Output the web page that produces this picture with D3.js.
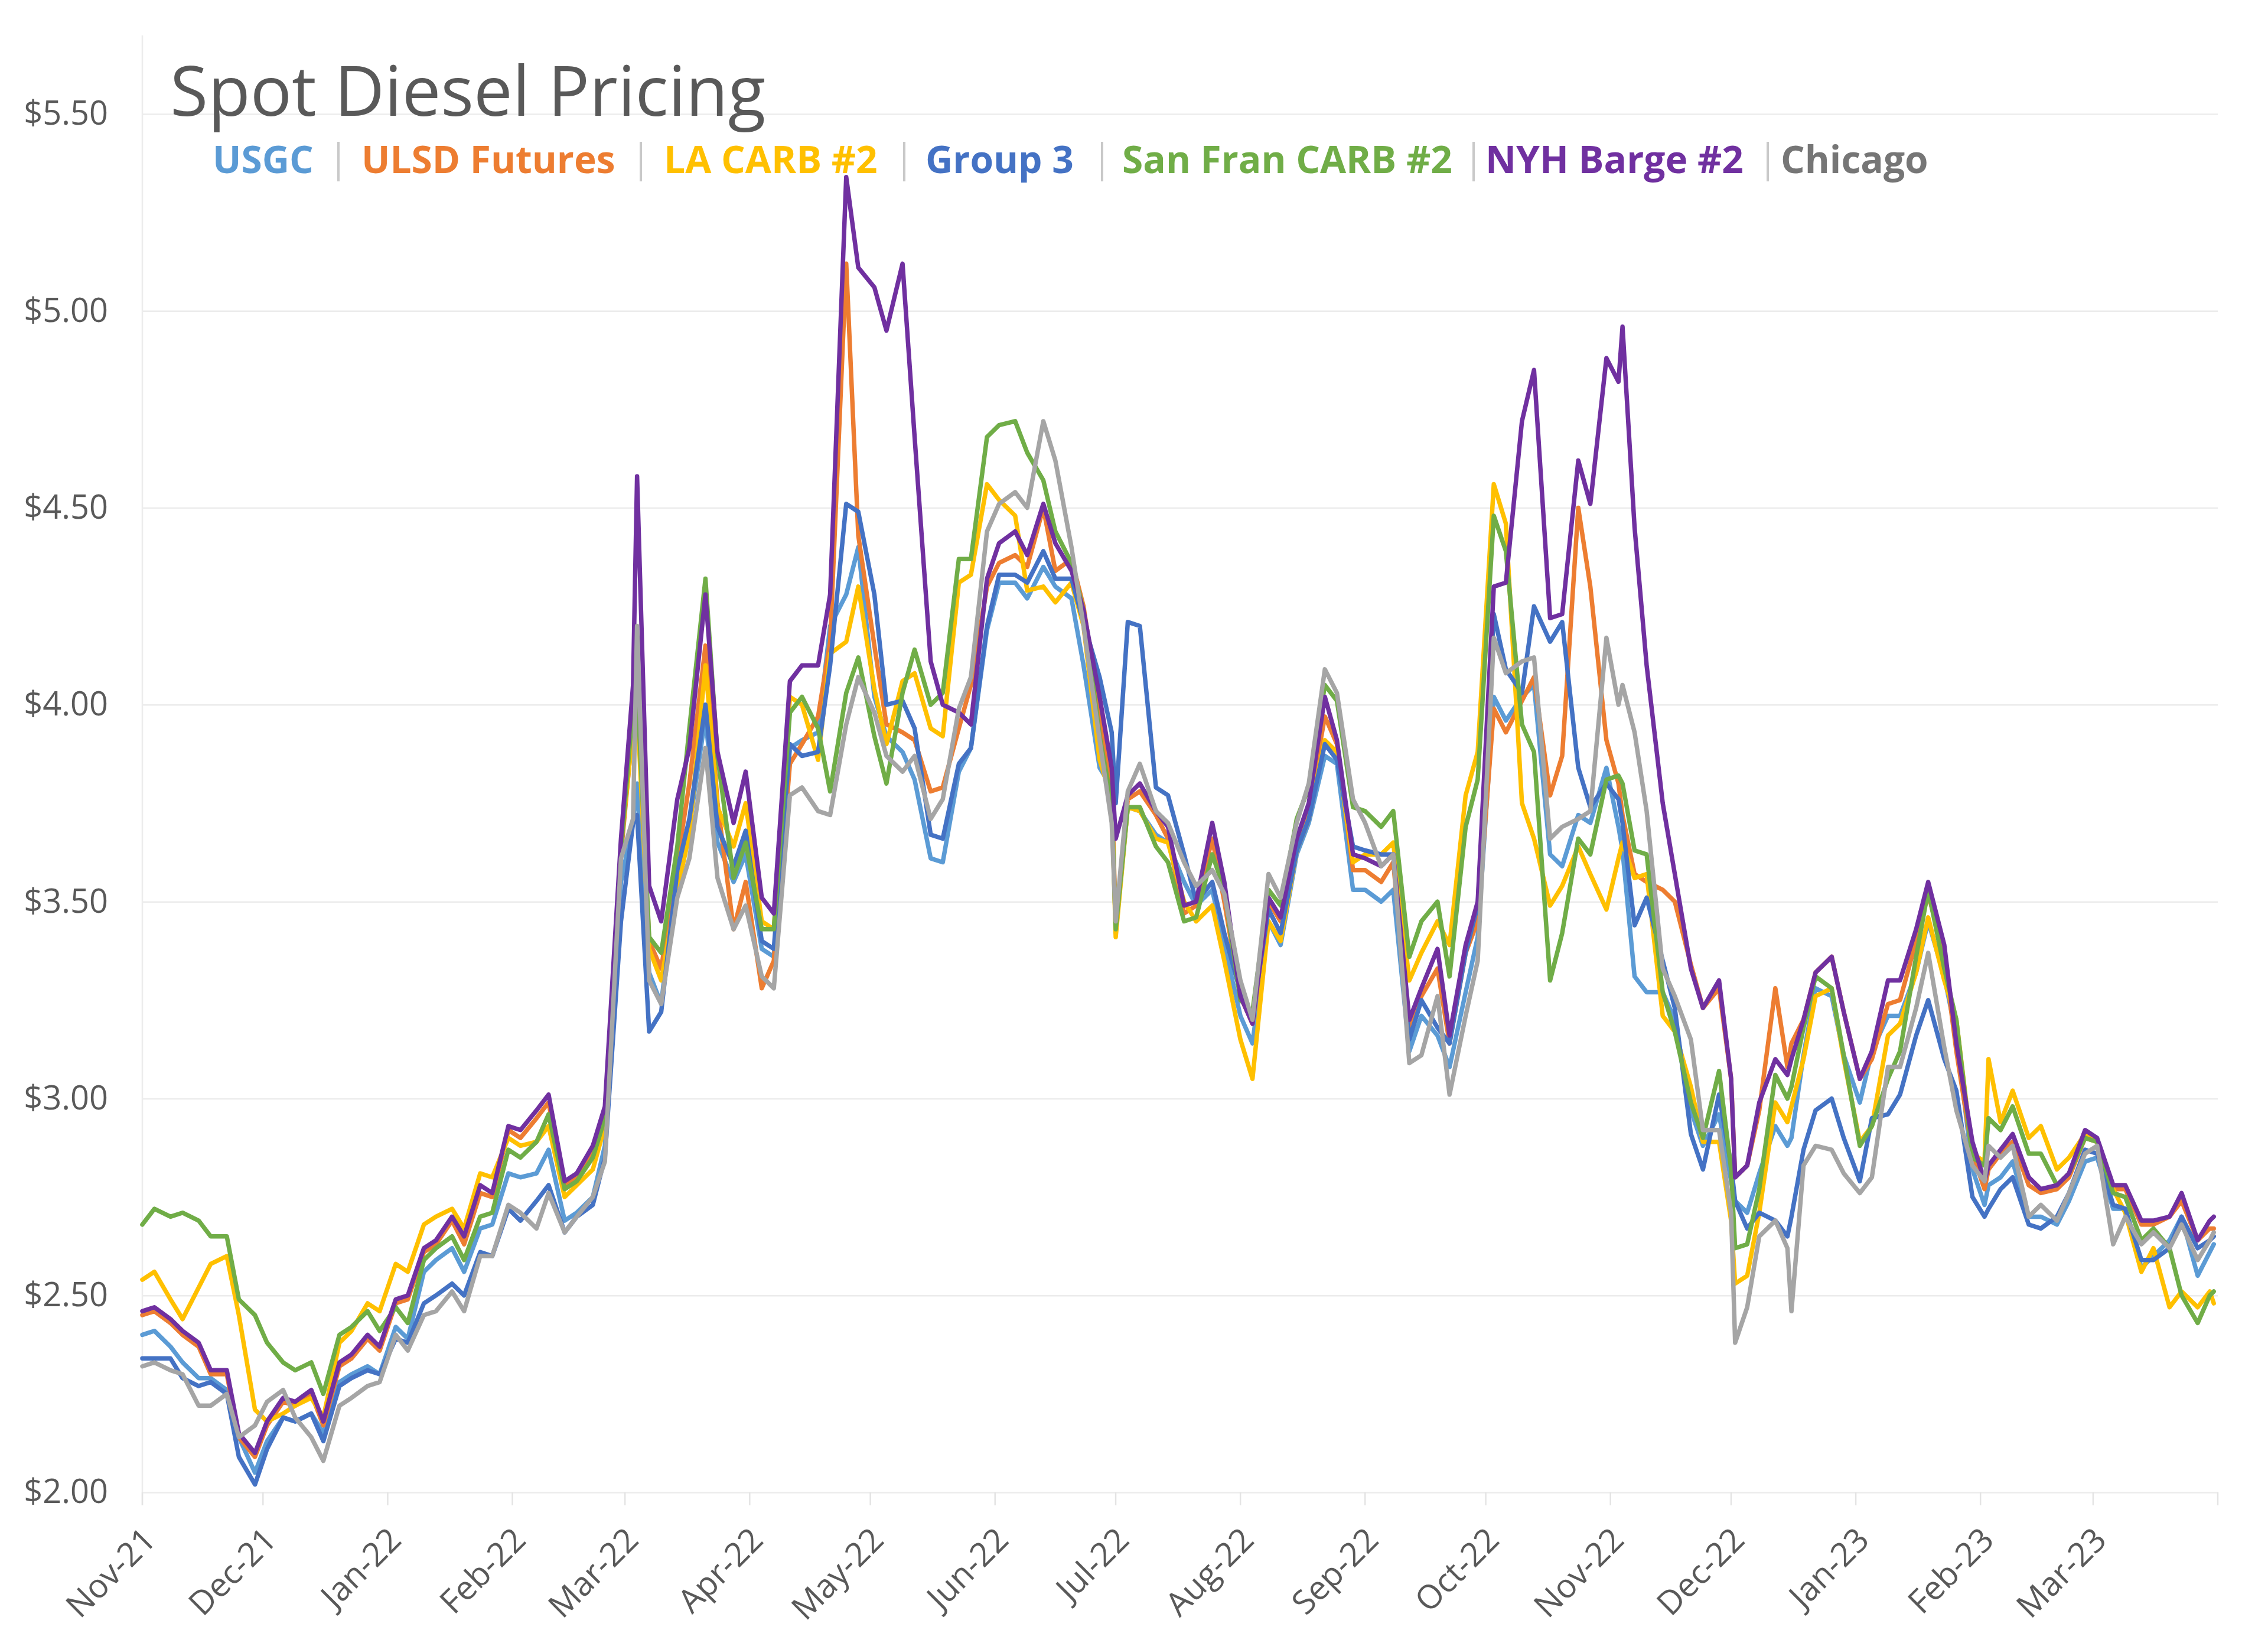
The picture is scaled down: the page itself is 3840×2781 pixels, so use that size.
<!DOCTYPE html>
<html><head><meta charset="utf-8">
<script src="https://cdn.jsdelivr.net/npm/d3@7"></script>
<style>html,body{margin:0;padding:0;background:#fff;} svg{display:block;}</style>
</head><body>
<svg id="chart" width="3840" height="2781"></svg>
<script>
const dates = [
"2021-11-01","2021-11-04","2021-11-08","2021-11-11","2021-11-15","2021-11-18","2021-11-22","2021-11-25","2021-11-29","2021-12-02","2021-12-06","2021-12-09","2021-12-13","2021-12-16","2021-12-20","2021-12-23","2021-12-27","2021-12-30","2022-01-03","2022-01-06","2022-01-10","2022-01-13","2022-01-17","2022-01-20","2022-01-24","2022-01-27",
"2022-01-31","2022-02-03","2022-02-07","2022-02-10","2022-02-14","2022-02-17","2022-02-21","2022-02-24","2022-02-28","2022-03-03","2022-03-04","2022-03-07","2022-03-10","2022-03-14","2022-03-17","2022-03-21","2022-03-24","2022-03-28","2022-03-31","2022-04-04","2022-04-07","2022-04-11","2022-04-14","2022-04-18","2022-04-21",
"2022-04-25","2022-04-28","2022-05-02","2022-05-05","2022-05-09","2022-05-12","2022-05-16","2022-05-19","2022-05-23","2022-05-26","2022-05-30","2022-06-02","2022-06-06","2022-06-09","2022-06-13","2022-06-16","2022-06-20","2022-06-23","2022-06-27","2022-06-30","2022-07-01","2022-07-04","2022-07-07","2022-07-11","2022-07-14","2022-07-18",
"2022-07-21","2022-07-25","2022-07-28","2022-08-01","2022-08-04","2022-08-08","2022-08-11","2022-08-15","2022-08-18","2022-08-22","2022-08-25","2022-08-29","2022-09-01","2022-09-05","2022-09-08","2022-09-12","2022-09-15","2022-09-19","2022-09-22","2022-09-26","2022-09-29","2022-10-03","2022-10-06","2022-10-10","2022-10-13",
"2022-10-17","2022-10-20","2022-10-24","2022-10-27","2022-10-31","2022-11-03","2022-11-04","2022-11-07","2022-11-10","2022-11-14","2022-11-17","2022-11-21","2022-11-24","2022-11-28","2022-12-01","2022-12-02","2022-12-05","2022-12-08","2022-12-12","2022-12-15","2022-12-16","2022-12-19","2022-12-22","2022-12-26","2022-12-29","2023-01-02","2023-01-05",
"2023-01-09","2023-01-12","2023-01-16","2023-01-19","2023-01-23","2023-01-26","2023-01-30","2023-02-02","2023-02-03","2023-02-06","2023-02-09","2023-02-13","2023-02-16","2023-02-20","2023-02-23","2023-02-27","2023-03-02","2023-03-06","2023-03-09","2023-03-13","2023-03-16","2023-03-20","2023-03-23","2023-03-27","2023-03-30","2023-03-31"
];

const usgc = [
2.40,2.41,2.37,2.33,2.29,2.29,2.26,2.14,2.05,2.13,2.19,2.18,2.20,2.15,2.28,2.30,2.32,2.30,2.42,2.39,2.56,2.59,2.62,2.56,2.67,2.68,
2.81,2.80,2.81,2.87,2.69,2.71,2.75,2.88,3.55,3.70,3.80,3.32,3.24,3.59,3.69,3.97,3.65,3.55,3.62,3.38,3.36,3.89,3.91,3.93,4.20,
4.28,4.40,4.02,3.92,3.88,3.81,3.61,3.60,3.83,3.89,4.19,4.31,4.31,4.27,4.35,4.30,4.27,4.10,3.84,3.79,3.42,3.74,3.73,3.67,3.65,3.55,
3.49,3.53,3.39,3.21,3.14,3.45,3.39,3.62,3.70,3.87,3.85,3.53,3.53,3.50,3.53,3.12,3.21,3.16,3.08,3.27,3.41,4.02,3.96,4.02,4.05,
3.62,3.59,3.72,3.70,3.84,3.69,3.63,3.31,3.27,3.27,3.20,2.97,2.88,2.96,2.79,2.74,2.71,2.81,2.93,2.88,2.90,3.11,3.28,3.26,3.11,2.99,3.12,
3.21,3.21,3.32,3.45,3.31,3.16,2.82,2.73,2.78,2.80,2.84,2.70,2.70,2.68,2.74,2.84,2.85,2.72,2.72,2.57,2.60,2.64,2.70,2.55,2.61,2.63
];
const ulsdFutures = [
2.45,2.46,2.43,2.40,2.37,2.30,2.30,2.14,2.09,2.17,2.23,2.22,2.25,2.17,2.32,2.34,2.39,2.36,2.48,2.49,2.61,2.63,2.69,2.63,2.76,2.75,
2.92,2.90,2.95,2.99,2.78,2.80,2.86,2.96,3.62,3.95,4.05,3.40,3.33,3.60,3.80,4.15,3.75,3.43,3.55,3.28,3.35,3.85,3.90,3.97,4.16,
5.12,4.43,4.15,3.95,3.93,3.91,3.78,3.79,3.94,4.05,4.30,4.36,4.38,4.35,4.50,4.34,4.37,4.25,3.98,3.80,3.44,3.76,3.78,3.72,3.66,3.47,
3.49,3.66,3.50,3.26,3.19,3.50,3.45,3.66,3.74,3.97,3.90,3.58,3.58,3.55,3.60,3.17,3.26,3.33,3.14,3.37,3.45,3.99,3.93,4.01,4.07,
3.77,3.87,4.50,4.30,3.91,3.80,3.72,3.57,3.55,3.53,3.50,3.34,3.23,3.28,3.05,2.80,2.83,2.97,3.28,3.08,3.14,3.20,3.32,3.36,3.22,3.05,3.10,
3.24,3.25,3.40,3.52,3.36,3.12,2.86,2.77,2.82,2.86,2.89,2.78,2.76,2.77,2.80,2.90,2.89,2.77,2.77,2.68,2.68,2.70,2.74,2.64,2.67,2.67
];
const laCarb2 = [
2.54,2.56,2.49,2.44,2.52,2.58,2.60,2.45,2.21,2.18,2.20,2.22,2.24,2.19,2.38,2.41,2.48,2.46,2.58,2.56,2.68,2.70,2.72,2.67,2.81,2.80,
2.90,2.88,2.89,2.93,2.75,2.78,2.82,2.93,3.64,3.94,4.00,3.38,3.30,3.53,3.67,4.10,3.74,3.64,3.75,3.45,3.43,4.02,4.00,3.86,4.13,
4.16,4.30,4.04,3.90,4.06,4.08,3.94,3.92,4.31,4.33,4.56,4.52,4.48,4.29,4.30,4.26,4.31,4.20,3.86,3.76,3.41,3.74,3.73,3.66,3.65,3.50,
3.45,3.49,3.35,3.15,3.05,3.45,3.40,3.63,3.71,3.91,3.88,3.60,3.62,3.62,3.65,3.30,3.37,3.45,3.39,3.77,3.88,4.56,4.46,3.75,3.66,
3.49,3.54,3.64,3.57,3.48,3.61,3.65,3.56,3.57,3.21,3.17,3.03,2.89,2.89,2.69,2.53,2.55,2.71,2.99,2.94,2.98,3.10,3.26,3.28,3.10,2.89,2.93,
3.16,3.19,3.32,3.46,3.30,3.20,2.86,2.84,3.10,2.94,3.02,2.90,2.93,2.82,2.85,2.91,2.89,2.77,2.71,2.56,2.62,2.47,2.51,2.47,2.51,2.48
];
const group3 = [
2.34,2.34,2.34,2.29,2.27,2.28,2.25,2.09,2.02,2.11,2.19,2.18,2.20,2.13,2.27,2.29,2.31,2.30,2.39,2.38,2.48,2.50,2.53,2.50,2.61,2.60,
2.72,2.69,2.74,2.78,2.66,2.70,2.73,2.85,3.45,3.70,3.72,3.17,3.22,3.58,3.71,4.00,3.69,3.59,3.68,3.40,3.38,3.90,3.87,3.88,4.10,
4.51,4.49,4.28,4.00,4.01,3.94,3.67,3.66,3.85,3.89,4.20,4.33,4.33,4.31,4.39,4.32,4.32,4.21,4.07,3.93,3.75,4.21,4.20,3.79,3.77,3.62,
3.50,3.55,3.42,3.27,3.21,3.48,3.42,3.63,3.71,3.90,3.86,3.64,3.63,3.62,3.62,3.15,3.25,3.18,3.14,3.37,3.49,4.23,4.09,4.03,4.25,
4.16,4.21,3.84,3.74,3.80,3.76,3.70,3.44,3.51,3.35,3.23,2.91,2.82,3.01,2.83,2.74,2.67,2.71,2.69,2.65,2.70,2.87,2.97,3.00,2.90,2.79,2.95,
2.96,3.01,3.16,3.25,3.10,3.02,2.75,2.70,2.72,2.77,2.80,2.68,2.67,2.70,2.76,2.87,2.86,2.73,2.72,2.59,2.59,2.62,2.70,2.62,2.64,2.65
];
const sanFranCarb2 = [
2.68,2.72,2.70,2.71,2.69,2.65,2.65,2.49,2.45,2.38,2.33,2.31,2.33,2.25,2.40,2.42,2.46,2.41,2.47,2.43,2.59,2.62,2.65,2.59,2.70,2.71,
2.87,2.85,2.89,2.96,2.77,2.79,2.85,2.95,3.63,4.00,4.05,3.41,3.37,3.64,3.94,4.32,3.87,3.56,3.65,3.43,3.43,3.98,4.02,3.94,3.78,
4.03,4.12,3.92,3.80,4.03,4.14,4.00,4.03,4.37,4.37,4.68,4.71,4.72,4.64,4.57,4.44,4.36,4.24,3.92,3.75,3.43,3.74,3.74,3.64,3.60,3.45,
3.46,3.62,3.53,3.25,3.22,3.53,3.49,3.71,3.79,4.05,4.01,3.74,3.73,3.69,3.73,3.36,3.45,3.50,3.31,3.69,3.81,4.48,4.39,3.95,3.88,
3.30,3.42,3.66,3.62,3.81,3.82,3.80,3.63,3.62,3.27,3.17,2.99,2.90,3.07,2.82,2.62,2.63,2.77,3.06,3.00,3.03,3.18,3.31,3.28,3.11,2.88,2.93,
3.05,3.12,3.36,3.53,3.33,3.20,2.85,2.83,2.95,2.92,2.98,2.86,2.86,2.78,2.81,2.90,2.89,2.76,2.75,2.64,2.67,2.62,2.50,2.43,2.50,2.51
];
const nyhBarge2 = [
2.46,2.47,2.44,2.41,2.38,2.31,2.31,2.15,2.10,2.18,2.24,2.23,2.26,2.18,2.33,2.35,2.40,2.37,2.49,2.50,2.62,2.64,2.70,2.65,2.78,2.76,
2.93,2.92,2.97,3.01,2.79,2.81,2.88,2.98,3.66,4.05,4.58,3.54,3.45,3.76,3.89,4.28,3.88,3.70,3.83,3.51,3.47,4.06,4.10,4.10,4.28,
5.34,5.11,5.06,4.95,5.12,4.68,4.11,4.00,3.98,3.95,4.32,4.41,4.44,4.38,4.51,4.41,4.34,4.24,4.02,3.84,3.66,3.77,3.80,3.73,3.69,3.49,
3.50,3.70,3.55,3.26,3.19,3.51,3.46,3.66,3.75,4.02,3.91,3.62,3.61,3.59,3.62,3.20,3.28,3.38,3.16,3.39,3.50,4.30,4.31,4.72,4.85,
4.22,4.23,4.62,4.51,4.88,4.82,4.96,4.45,4.10,3.75,3.57,3.33,3.23,3.30,3.05,2.80,2.83,2.99,3.10,3.06,3.10,3.20,3.32,3.36,3.22,3.05,3.12,
3.30,3.30,3.43,3.55,3.39,3.14,2.89,2.79,2.83,2.87,2.91,2.80,2.77,2.78,2.81,2.92,2.90,2.78,2.78,2.69,2.69,2.70,2.76,2.64,2.69,2.70
];
const chicago = [
2.32,2.33,2.31,2.30,2.22,2.22,2.25,2.14,2.17,2.23,2.26,2.19,2.14,2.08,2.22,2.24,2.27,2.28,2.40,2.36,2.45,2.46,2.51,2.46,2.60,2.60,
2.73,2.71,2.67,2.76,2.66,2.70,2.75,2.84,3.61,3.71,4.20,3.30,3.24,3.51,3.61,3.89,3.56,3.43,3.49,3.31,3.28,3.77,3.79,3.73,3.72,
3.95,4.07,3.98,3.87,3.83,3.87,3.71,3.76,3.99,4.07,4.44,4.51,4.54,4.50,4.72,4.62,4.40,4.20,3.91,3.70,3.45,3.78,3.85,3.73,3.70,3.60,
3.54,3.58,3.52,3.30,3.20,3.57,3.51,3.70,3.80,4.09,4.03,3.76,3.70,3.59,3.62,3.09,3.11,3.26,3.01,3.21,3.35,4.17,4.08,4.11,4.12,
3.66,3.69,3.71,3.73,4.17,4.00,4.05,3.93,3.73,3.33,3.26,3.15,2.92,2.92,2.71,2.38,2.47,2.65,2.69,2.62,2.46,2.83,2.88,2.87,2.81,2.76,2.80,
3.08,3.08,3.23,3.37,3.13,2.97,2.83,2.79,2.88,2.85,2.88,2.70,2.73,2.69,2.76,2.86,2.88,2.63,2.70,2.63,2.66,2.62,2.68,2.59,2.64,2.66
];

const seriesNames = ["USGC", "ULSD Futures", "LA CARB #2", "Group 3", "San Fran CARB #2", "NYH Barge #2", "Chicago"];
const seriesValues = [usgc, ulsdFutures, laCarb2, group3, sanFranCarb2, nyhBarge2, chicago];
const yTicks = [2.0, 2.5, 3.0, 3.5, 4.0, 4.5, 5.0, 5.5];
const chartTitle = "Spot Diesel Pricing";

// ---- styling / layout (not data) ----
const lineColors = ["#5B9BD5", "#ED7D31", "#FFC000", "#4472C4", "#70AD47", "#7030A0", "#A5A5A5"];
const legendColors = ["#5B9BD5", "#ED7D31", "#FFC000", "#4472C4", "#70AD47", "#7030A0", "#767676"];
const legendXs = [360, 612, 1124, 1567, 1900, 2515, 3015];
const sepXs = [573, 1085, 1531, 1866, 2495, 2993];
const plot = {left: 241, right: 3755, top: 193, bottom: 2526};
const FONT = "'Open Sans', 'Noto Sans', sans-serif";

const svg = d3.select("#chart");
const parse = d3.timeParse("%Y-%m-%d");
const dateObjs = dates.map(parse);

const x = d3.scaleTime()
  .domain([parse("2021-11-01"), parse("2023-04-01")])
  .range([plot.left, plot.right]);
const y = d3.scaleLinear().domain([2, 5.5]).range([plot.bottom, plot.top]);

svg.append("rect").attr("width", 3840).attr("height", 2781).attr("fill", "#fff");

// gridlines + y labels
const yAxis = d3.axisLeft(y)
  .tickValues(yTicks)
  .tickFormat(d3.format("$.2f"))
  .tickSize(-(plot.right - plot.left))
  .tickPadding(58);
const gy = svg.append("g").attr("transform", `translate(${plot.left},0)`).call(yAxis);
gy.select(".domain").remove();
gy.selectAll(".tick line").attr("stroke", "#ECECEC").attr("stroke-width", 2.5);
gy.selectAll(".tick text")
  .attr("fill", "#595959")
  .style("font-family", FONT)
  .style("font-size", "56px");

// left axis line
svg.append("line")
  .attr("x1", plot.left).attr("x2", plot.left)
  .attr("y1", 60).attr("y2", plot.bottom + 22)
  .attr("stroke", "#ECECEC").attr("stroke-width", 2.5);

// x axis ticks and labels
const months = d3.timeMonth.range(parse("2021-11-01"), d3.timeDay.offset(parse("2023-04-01"), 1));
const gx = svg.append("g");
gx.selectAll("line.mt").data(months).join("line")
  .attr("class", "mt")
  .attr("x1", d => x(d)).attr("x2", d => x(d))
  .attr("y1", plot.bottom).attr("y2", plot.bottom + 22)
  .attr("stroke", "#E4E4E4").attr("stroke-width", 2.5);
const fmt = d3.timeFormat("%b-%y");
gx.selectAll("text.ml").data(months.slice(0, months.length - 1)).join("text")
  .attr("class", "ml")
  .attr("transform", d => `translate(${x(d) + 12},${plot.bottom + 70}) rotate(-45)`)
  .attr("text-anchor", "end")
  .attr("dy", "0.35em")
  .attr("fill", "#595959")
  .style("font-family", FONT)
  .style("font-size", "56px")
  .text(d => fmt(d));

// lines
const line = d3.line()
  .x((d, i) => x(dateObjs[i]))
  .y(d => y(d));
const gl = svg.append("g");
seriesValues.forEach((vals, k) => {
  gl.append("path")
    .datum(vals)
    .attr("fill", "none")
    .attr("stroke", lineColors[k])
    .attr("stroke-width", 7.5)
    .attr("stroke-linejoin", "round")
    .attr("stroke-linecap", "round")
    .attr("d", line);
});

// title
svg.append("text")
  .attr("x", 288).attr("y", 196)
  .attr("fill", "#595959")
  .style("font-family", FONT)
  .style("font-size", "117px")
  .text(chartTitle);

// legend
const gLeg = svg.append("g");
seriesNames.forEach((name, k) => {
  gLeg.append("text")
    .attr("x", legendXs[k]).attr("y", 293)
    .attr("fill", legendColors[k])
    .style("font-family", FONT)
    .style("font-weight", "bold")
    .style("font-size", "64px")
    .text(name);
});
sepXs.forEach(sx => {
  gLeg.append("line")
    .attr("x1", sx).attr("x2", sx)
    .attr("y1", 240).attr("y2", 307)
    .attr("stroke", "#C9C9C9").attr("stroke-width", 4);
});
</script>
</body></html>
